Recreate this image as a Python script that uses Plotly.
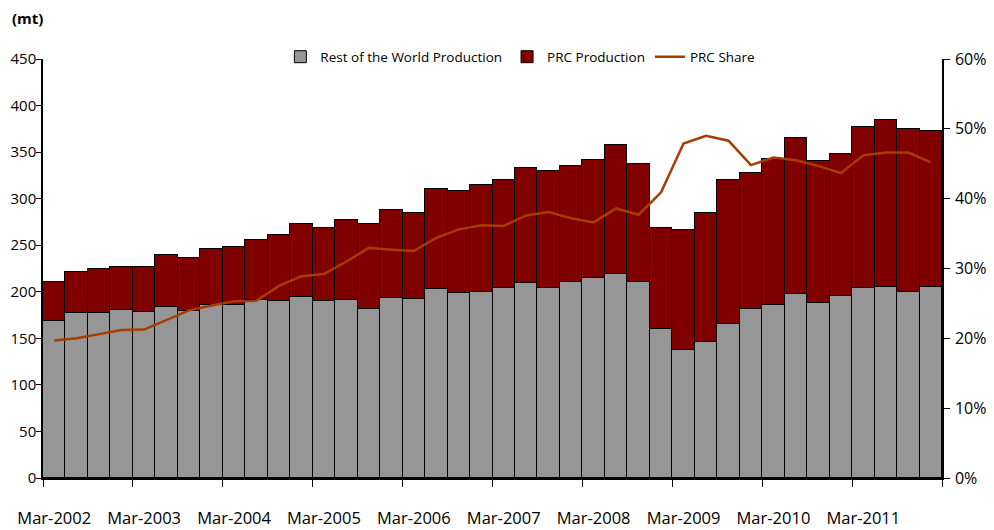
import plotly.graph_objects as go

# Quarterly categories (Mar-2002 .. Dec-2011)
years = list(range(2002, 2012))
months = ["Mar", "Jun", "Sep", "Dec"]
quarters = [f"{m}-{y}" for y in years for m in months]

# Rest of the World production (mt)
rest_of_world = [169, 177, 177, 180, 178, 184, 179, 186, 186, 191,
                 190, 194, 190, 191, 182, 193, 192, 203, 199, 200,
                 204, 209, 204, 210, 215, 219, 210, 160, 138, 146,
                 165, 181, 186, 198, 188, 196, 204, 205, 200, 205]

# PRC production (mt)
prc_production = [41, 44, 47, 47, 49, 55, 57, 60, 62, 65,
                  71, 79, 78, 86, 91, 95, 93, 107, 109, 115,
                  116, 124, 126, 125, 126, 139, 127, 109, 128, 139,
                  155, 147, 157, 167, 152, 152, 173, 180, 175, 168]

# PRC share of world production (%)
prc_share = [19.7, 20.0, 20.6, 21.2, 21.25, 22.6, 24.0, 24.7, 25.3, 25.4,
             27.5, 28.9, 29.2, 31.0, 32.95, 32.7, 32.5, 34.4, 35.6, 36.2,
             36.1, 37.6, 38.1, 37.2, 36.6, 38.6, 37.7, 40.9, 47.9, 49.0,
             48.3, 44.8, 45.9, 45.5, 44.7, 43.65, 46.2, 46.6, 46.6, 45.2]

tick_labels = [q for q in quarters if q.startswith("Mar")]

xpos = list(range(len(quarters)))
share_frac = [v / 100 for v in prc_share]

FONT = "Open Sans"

fig = go.Figure()
fig.add_trace(go.Bar(
    x=xpos, y=rest_of_world, name="Rest of the World Production",
    marker=dict(color="#969696", line=dict(color="#000000", width=1)),
    customdata=quarters, hovertemplate="%{customdata}: %{y}<extra></extra>",
))
fig.add_trace(go.Bar(
    x=xpos, y=prc_production, name="PRC Production",
    marker=dict(color="#800000", line=dict(color="#000000", width=1)),
    customdata=quarters, hovertemplate="%{customdata}: %{y}<extra></extra>",
))
fig.add_trace(go.Scatter(
    x=xpos, y=share_frac, name="PRC Share", yaxis="y2", mode="lines",
    line=dict(color="#A63C00", width=2.5),
    customdata=quarters, hovertemplate="%{customdata}: %{y:.1%}<extra></extra>",
))

tickvals = [i for i, q in enumerate(quarters) if q.startswith("Mar")]
minor_vals = [i - 0.5 for i in range(0, len(quarters) + 1, 4)]

# page body has an 8px margin, so the figure is 8px smaller than the window
fig.update_layout(
    width=986, height=522,
    margin=dict(l=35, r=52, t=51, b=52, autoexpand=False),
    paper_bgcolor="white", plot_bgcolor="white",
    barmode="stack", bargap=0,
    font=dict(family=FONT, size=16, color="#000000"),
    showlegend=True,
    legend=dict(
        orientation="h", x=0.531, xanchor="center", y=1.005, yanchor="middle",
        font=dict(family=FONT, size=13.5, color="#000000"),
        bgcolor="rgba(0,0,0,0)", traceorder="normal",
    ),
    xaxis=dict(
        range=[-0.5, len(quarters) - 0.5], automargin=False,
        tickmode="array", tickvals=tickvals, ticktext=tick_labels,
        ticks="", showgrid=False, zeroline=False,
        showline=True, linecolor="#000000", linewidth=1.5,
        ticklabelstandoff=24,
        tickfont=dict(family=FONT, size=16.5),
        minor=dict(tickmode="array", tickvals=minor_vals, ticks="outside",
                   ticklen=7, tickcolor="#000000", tickwidth=1, showgrid=False),
    ),
    yaxis=dict(
        range=[0, 450], dtick=50, tick0=0, automargin=False,
        ticks="outside", ticklen=5, tickcolor="#000000", tickwidth=1,
        showgrid=False, zeroline=False,
        showline=True, linecolor="#000000", linewidth=1.5,
        ticklabelstandoff=-3,
        tickfont=dict(family=FONT, size=15),
    ),
    yaxis2=dict(
        range=[0, 0.6], dtick=0.1, tick0=0, tickformat=".0%",
        overlaying="y", side="right", automargin=False,
        ticks="outside", ticklen=6, tickcolor="#000000", tickwidth=1,
        showgrid=False, zeroline=False,
        showline=True, linecolor="#000000", linewidth=1.5,
        ticklabelstandoff=2,
        tickfont=dict(family=FONT, size=16),
    ),
    annotations=[dict(
        text="<b>(mt)</b>", xref="paper", yref="paper",
        x=-0.0167, y=1.098, xanchor="center", yanchor="middle",
        showarrow=False, font=dict(family=FONT, size=15, color="#000000"),
    )],
)

fig.write_html("out.html")
